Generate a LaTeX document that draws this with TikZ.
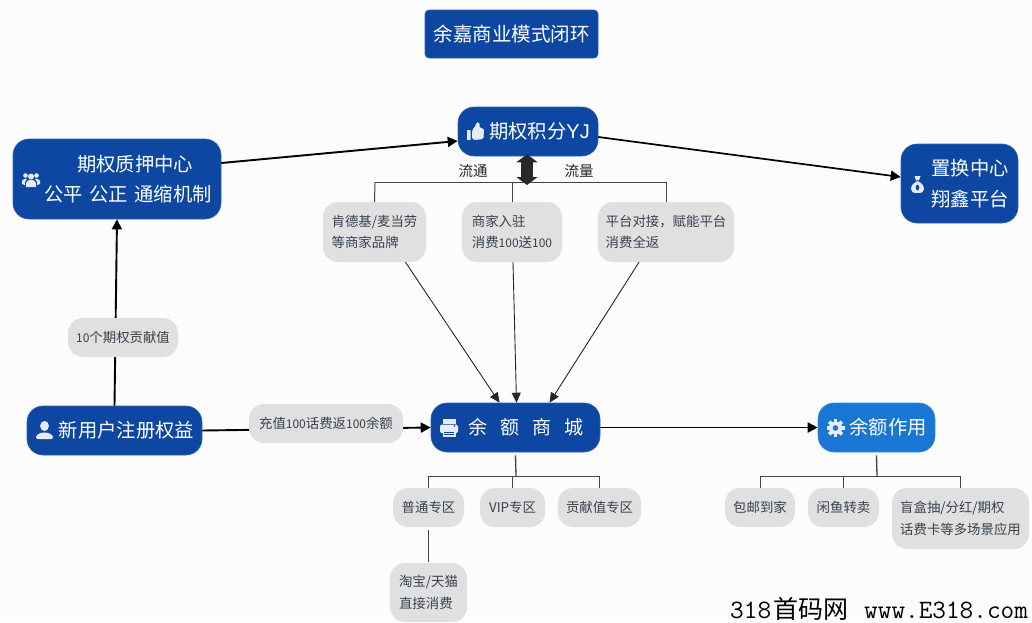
\documentclass[tikz,border=0pt]{standalone}
\usepackage{fontspec}
\setmainfont{Noto Sans CJK SC}
\newfontfamily\latinface{Liberation Sans}
\usetikzlibrary{arrows.meta}
\definecolor{navy}{HTML}{0D47A1}
\definecolor{azure}{HTML}{1976D2}
\definecolor{chip}{HTML}{E0E0E0}
\definecolor{chiptext}{HTML}{37424F}
\definecolor{treeline}{HTML}{444444}
\definecolor{iconfill}{HTML}{E6ECF6}
\definecolor{dbl}{HTML}{2B2926}
\newcommand{\dgt}[1]{{\fontsize{12}{21.5}\selectfont #1}}
\tikzset{
  x=1pt,y=-1pt,
  bluebox/.style={fill=navy,draw=navy!85!white,line width=.6pt,rounded corners=16pt,text=white,inner sep=0pt,align=center,font=\fontsize{19.3}{30.5}\selectfont},
  greybox/.style={fill=chip,rounded corners=15pt,text=chiptext,inner sep=0pt,align=left,font=\fontsize{13.4}{21.5}\selectfont},
  heavy/.style={line width=1.9pt,draw=black,-{Triangle[length=10pt,width=10pt]}},
  thinarrow/.style={line width=.9pt,draw=black!85,-{Triangle[length=10pt,width=9pt]}},
  tree/.style={line width=1pt,draw=treeline},
  icon/.style={fill=iconfill,draw=none},
  wm/.style={inner sep=0pt,anchor=base west,text=black},
}
\begin{document}
\begin{tikzpicture}
\useasboundingbox (0,0) rectangle (1032,622);
\fill[white!99!black] (0,0) rectangle (1032,622);

\coordinate (trunk) at (527,182);
\coordinate (left) at (375,182);
\coordinate (mid) at (512,182);
\coordinate (right) at (666,182);
\coordinate (ysj) at (516,476);
\coordinate (zuo) at (877,476);

% blue nodes
\node[bluebox,minimum width=173pt,minimum height=48pt,rounded corners=4pt,font=\fontsize{19.5}{24}\selectfont] (title) at (511.5,34) {余嘉商业模式闭环};
\node[bluebox,minimum width=208pt,minimum height=80pt,align=left] (qz) at (117,179) {\hspace*{55pt}期权质押中心\\\hspace*{22pt}公平\hspace{6.5pt}公正\hspace{6.5pt}通缩机制};
\node[bluebox,minimum width=140pt,minimum height=49pt] (ji) at (528,131.5) {\hspace*{23pt}期权积分{\latinface\fontsize{20}{30}\selectfont YJ}};
\node[bluebox,minimum width=117pt,minimum height=79pt] (zh) at (959.5,183.5) {\hspace*{21pt}置换中心\\\hspace*{21pt}翔鑫平台};
\node[bluebox,minimum width=175pt,minimum height=49pt] (usr) at (114.5,430.5) {\hspace*{24pt}新用户注册权益};
\node[bluebox,minimum width=169pt,minimum height=49pt,font=\fontsize{19}{30}\selectfont] (ys) at (515.5,427.5) {\hspace*{21pt}余\hspace{13pt}额\hspace{13pt}商\hspace{13pt}城};
\node[bluebox,fill=azure,draw=azure!85!white,minimum width=117pt,minimum height=49pt] (yz) at (876.5,427.5) {\hspace*{23pt}余额作用};

% connectors
\draw[heavy] (usr.north) -- (qz.south);
\draw[heavy] (usr.east) -- (ys.west);
\draw[heavy] ([yshift=16pt]qz.east) -- ([yshift=-9.5pt]ji.west);
\draw[heavy,line width=1.7pt] ([yshift=-5.5pt]ji.east) -- ([yshift=6.5pt]zh.west);
\draw[heavy] (ys.east) -- (yz.west);

% grey nodes
\node[greybox,minimum width=110pt,minimum height=39pt] (gx) at (123,337.5) {\dgt{10}个期权贡献值};
\node[greybox,minimum width=154pt,minimum height=39pt] (cz) at (326,423.5) {充值\dgt{100}话费返\dgt{100}余额};
\node[greybox,minimum width=103pt,minimum height=60pt] (kd) at (374.5,232) {肯德基/麦当劳\\等商家品牌};
\node[greybox,minimum width=100pt,minimum height=60pt] (sj) at (512,232) {商家入驻\\消费\dgt{100}送\dgt{100}};
\node[greybox,minimum width=136pt,minimum height=60pt] (pt) at (666,232) {平台对接，赋能平台\\消费全返};
\node[greybox,minimum width=71pt,minimum height=39pt] (pu) at (428.5,507.5) {普通专区};
\node[greybox,minimum width=65pt,minimum height=39pt] (vip) at (512.5,507.5) {VIP专区};
\node[greybox,minimum width=83pt,minimum height=39pt] (gxz) at (599.5,507.5) {贡献值专区};
\node[greybox,minimum width=77pt,minimum height=59pt] (tb) at (428.5,592.5) {淘宝/天猫\\直接消费};
\node[greybox,minimum width=70pt,minimum height=39pt] (by) at (760,507.5) {包邮到家};
\node[greybox,minimum width=71pt,minimum height=39pt] (xy) at (843.5,507.5) {闲鱼转卖};
\node[greybox,minimum width=137pt,minimum height=61pt] (mh) at (960.5,518.5) {盲盒抽/分红/期权\\话费卡等多场景应用};

% trees
\draw[tree] (left) -- (right);
\draw[tree] (left) -- (kd.north);
\draw[tree] (mid) -- (sj.north);
\draw[tree] (right) -- (pt.north);
\draw[tree] (pu.north) |- (ysj) -| (gxz.north);
\draw[tree] (vip.north) -- (vip.north |- ysj);
\draw[tree,line width=1.3pt] ([yshift=-3pt]ys.south) -- (ysj);
\draw[tree] ([yshift=-3pt]pu.south) -- ([yshift=1pt]tb.north);
\draw[tree] (by.north) |- (zuo) -| (mh.north);
\draw[tree] (xy.north) -- (xy.north |- zuo);
\draw[tree,line width=1.3pt] ([yshift=-3pt]yz.south) -- (zuo);

% arrows to the mall
\draw[thinarrow] ([xshift=31pt]kd.south) -- ([xshift=-16pt]ys.north);
\draw[thinarrow] ([xshift=1pt]sj.south) -- ([xshift=1pt]ys.north);
\draw[thinarrow] ([xshift=-27pt]pt.south) -- ([xshift=34pt]ys.north);

% double arrow
\draw[dbl,line width=12pt,{Triangle[length=8pt,width=21pt]}-{Triangle[length=8pt,width=21pt]}] ([xshift=-1pt,yshift=2pt]ji.south) -- ([yshift=-3pt]trunk);

% labels
\node[inner sep=0pt,text=black!85,font=\fontsize{14.5}{17}\selectfont] (lt) at (473,171) {流通};
\node[inner sep=0pt,text=black!85,font=\fontsize{14.5}{17}\selectfont] (ll) at (579,171) {流量};

% icons
\fill[icon] (31,176.5) circle (3pt);
\fill[icon] (25.5,175.5) circle (2.3pt);
\fill[icon] (36.5,175.5) circle (2.3pt);
\fill[icon] (26,187) .. controls (25,181) and (28,180) .. (31,180) .. controls (34,180) and (37,181) .. (36,187) -- cycle;
\fill[icon] (22,184) .. controls (21.5,180) and (23,178.7) .. (25.5,178.7) .. controls (26,178.7) and (26.5,178.8) .. (27,179) .. controls (25,180.5) and (24.6,182.5) .. (24.8,185) -- cycle;
\fill[icon] (40,184) .. controls (40.5,180) and (39,178.7) .. (36.5,178.7) .. controls (36,178.7) and (35.5,178.8) .. (35,179) .. controls (37,180.5) and (37.4,182.5) .. (37.2,185) -- cycle;
% thumb
\fill[icon,rounded corners=.5pt] (467,130) rectangle (470.5,140);
\fill[icon,rounded corners=1.5pt] (472,130.5) -- (476,125) -- (476.5,122) -- (479.5,122.5) -- (479.5,128) -- (484,128.5) -- (483.5,139) -- (475,140) -- (472,139) -- cycle;
% person
\fill[icon] (44.5,426) ellipse (4.4pt and 5pt);
\fill[icon,rounded corners=1.5pt] (36,439) -- (36,435.5) -- (41.5,432.5) -- (47.5,432.5) -- (53,435.5) -- (53,439) -- cycle;
% printer
\fill[icon] (442.5,419) rectangle (455.5,423.5);
\fill[icon,rounded corners=1.5pt] (440,424.5) rectangle (458,433);
\fill[icon] (442.5,430) rectangle (455.5,437);
\fill[navy] (444,431.7) rectangle (454,432.7);
\fill[navy] (444,434) rectangle (454,435);
\fill[navy] (454.5,426) circle (.8pt);
% gear
\fill[icon,even odd rule] (835.5,428) circle (6.5pt) (835.5,428) circle (2.9pt);
\foreach \a in {0,45,...,315}{
  \fill[icon,rotate around={\a:(835.5,428)}] (833.7,419) rectangle (837.3,423);
}
% money bag
\fill[icon] (917.5,181) .. controls (913,183) and (911,186) .. (911,189) .. controls (911,192) and (913,193) .. (917.5,193) .. controls (922,193) and (924,192) .. (924,189) .. controls (924,186) and (922,183) .. (917.5,181) -- cycle;
\fill[icon] (914.5,176) -- (920.5,176) -- (919,180.3) -- (916,180.3) -- cycle;
\fill[navy] (917.5,187.5) ellipse (1.8pt and 2.8pt);

% watermark
\node[wm,font=\ttfamily\fontsize{26.5}{26}\selectfont] (wma) at (730,618) {318};
\node[wm,font=\fontsize{25}{24}\selectfont] (wmb) at (773,618) {首码网};
\node[wm,font=\ttfamily\fontsize{26.5}{26}\selectfont] (wmc) at (864,618) {www.E318.com};
\end{tikzpicture}
\end{document}
